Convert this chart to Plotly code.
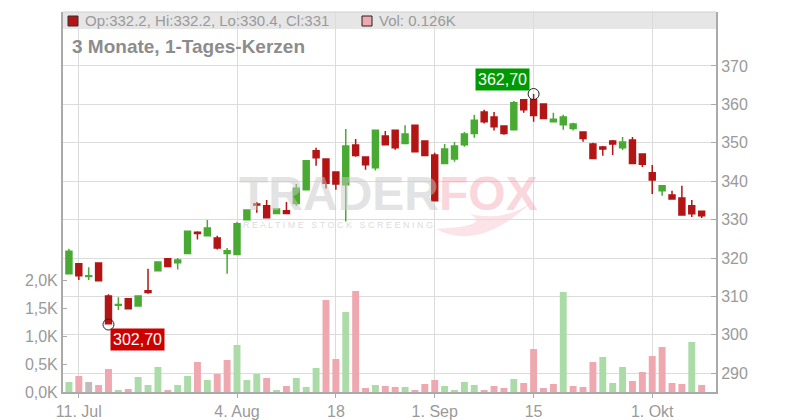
import plotly.graph_objects as go

# ---------------- data ----------------
dates = [
    "2025-07-10", "2025-07-11", "2025-07-14", "2025-07-15", "2025-07-16", "2025-07-17", "2025-07-18",
    "2025-07-21", "2025-07-22", "2025-07-23", "2025-07-24", "2025-07-25",
    "2025-07-28", "2025-07-29", "2025-07-30", "2025-07-31", "2025-08-01",
    "2025-08-04", "2025-08-05", "2025-08-06", "2025-08-07", "2025-08-08",
    "2025-08-11", "2025-08-12", "2025-08-13", "2025-08-14", "2025-08-15",
    "2025-08-18", "2025-08-19", "2025-08-20", "2025-08-21", "2025-08-22",
    "2025-08-25", "2025-08-26", "2025-08-27", "2025-08-28", "2025-08-29",
    "2025-09-01", "2025-09-02", "2025-09-03", "2025-09-04", "2025-09-05",
    "2025-09-08", "2025-09-09", "2025-09-10", "2025-09-11", "2025-09-12",
    "2025-09-15", "2025-09-16", "2025-09-17", "2025-09-18", "2025-09-19",
    "2025-09-22", "2025-09-23", "2025-09-24", "2025-09-25", "2025-09-26",
    "2025-09-29", "2025-09-30", "2025-10-01", "2025-10-02", "2025-10-03",
    "2025-10-06", "2025-10-07", "2025-10-08",
]

opens = [315.9, 318.5, 315.2, 318.7, 310.1, 307.7, 309.4, 307.5, 311.5, 316.7, 319.8,
         318.8, 321.2, 326.7, 325.8, 325.2, 321.2, 320.9, 330.0, 334.1, 333.6, 331.6,
         332.3, 334.2, 337.8, 347.9, 345.8, 342.4, 339.1, 349.4, 346.3, 343.5, 351.8,
         353.3, 349.8, 354.6, 350.5, 346.8, 344.6, 345.8, 349.5, 352.4, 358.0, 356.7,
         354.4, 353.4, 361.2, 361.2, 360.1, 355.5, 354.7, 353.7, 352.8, 349.7, 348.9,
         350.5, 348.7, 350.7, 347.1, 342.2, 337.5, 336.4, 335.6, 333.6, 332.2]
highs = [322.4, 318.5, 317.6, 318.8, 310.6, 309.8, 309.4, 310.1, 317.2, 319.0, 319.8,
         320.0, 327.1, 327.0, 329.9, 325.8, 322.6, 329.4, 332.5, 334.6, 335.1, 332.8,
         334.6, 339.3, 345.3, 348.7, 345.8, 342.4, 353.6, 351.0, 346.3, 353.3, 353.1,
         353.3, 354.6, 354.6, 350.5, 347.4, 349.7, 350.2, 352.8, 357.3, 358.6, 358.0,
         354.4, 360.9, 361.2, 362.7, 360.1, 357.8, 357.3, 355.2, 352.8, 350.0, 349.2,
         350.7, 351.5, 351.5, 347.1, 344.2, 338.8, 337.5, 338.8, 335.1, 332.2]
lows = [315.9, 314.3, 314.3, 314.0, 302.7, 306.5, 306.8, 307.5, 310.7, 316.7, 317.8,
        317.0, 321.2, 324.8, 325.8, 322.2, 315.9, 320.9, 330.0, 331.8, 330.5, 331.6,
        331.6, 333.6, 337.8, 344.0, 338.1, 337.8, 329.5, 346.4, 343.0, 342.8, 349.5,
        348.2, 349.8, 347.7, 346.7, 334.9, 344.6, 345.1, 349.0, 351.3, 355.0, 353.2,
        352.1, 353.4, 357.8, 355.5, 356.3, 355.5, 353.4, 353.2, 350.3, 345.9, 346.6,
        346.8, 348.1, 344.6, 343.7, 336.7, 336.2, 335.4, 331.2, 330.7, 330.4]
closes = [321.8, 315.4, 315.4, 314.1, 302.9, 307.9, 306.8, 310.1, 311.0, 319.0, 317.8,
          319.5, 327.0, 326.4, 327.8, 322.6, 321.9, 328.9, 332.5, 333.8, 330.5, 332.8,
          331.6, 338.2, 345.3, 346.1, 339.5, 339.3, 349.2, 346.7, 344.3, 353.3, 349.5,
          348.7, 352.3, 347.7, 346.7, 334.9, 348.4, 349.2, 352.3, 355.9, 355.5, 354.2,
          352.4, 360.4, 358.6, 357.1, 356.3, 356.1, 356.7, 354.9, 351.1, 345.9, 348.4,
          349.7, 350.2, 344.6, 344.4, 340.3, 338.8, 335.4, 331.2, 331.5, 331.0]
volumes = [179, 286, 179, 125, 411, 36, 54, 268, 125, 446, 18,
           125, 286, 536, 214, 321, 571, 839, 214, 321, 250, 36,
           107, 250, 89, 429, 1643, 589, 1429, 1804, 71, 125, 107,
           89, 89, 18, 143, 214, 107, 18, 179, 125, 36, 107,
           71, 232, 161, 768, 71, 143, 1786, 107, 89, 536, 625,
           161, 446, 196, 357, 643, 804, 161, 143, 893, 126]

x_tick_dates = ["2025-07-11", "2025-08-04", "2025-08-18", "2025-09-01", "2025-09-15", "2025-10-01"]
x_tick_labels = ["11. Jul", "4. Aug", "18", "1. Sep", "15", "1. Okt"]
price_ticks = [290, 300, 310, 320, 330, 340, 350, 360, 370]
vol_ticks = [0, 500, 1000, 1500, 2000]
vol_tick_labels = ["0,0K", "0,5K", "1,0K", "1,5K", "2,0K"]

# ---------------- styles ----------------
UP = "#48aa32"
DOWN = "#b31515"
VOL_UP = "#abdca8"
VOL_DOWN = "#efa7b0"
VOL_FLAT = "#bdbdbd"
GRID = "#dcdcdc"
AXIS = "#aaaaaa"
TXT = "#9a9a9a"
FONT = "Liberation Sans, Arial, sans-serif"

vol_colors = []
for i, c in enumerate(closes):
    if i == 0 or c > closes[i - 1]:
        vol_colors.append(VOL_UP)
    elif c < closes[i - 1]:
        vol_colors.append(VOL_DOWN)
    else:
        vol_colors.append(VOL_FLAT)

imin = min(range(len(lows)), key=lambda k: lows[k])
imax = max(range(len(highs)), key=lambda k: highs[k])

fig = go.Figure()

fig.add_trace(go.Bar(
    x=dates, y=volumes, marker=dict(color=vol_colors, line=dict(width=0)),
    yaxis="y", hoverinfo="skip", showlegend=False,
))

fig.add_trace(go.Candlestick(
    x=dates, open=opens, high=highs, low=lows, close=closes, yaxis="y2",
    increasing=dict(line=dict(color=UP, width=1.5), fillcolor=UP),
    decreasing=dict(line=dict(color=DOWN, width=1.5), fillcolor=DOWN),
    whiskerwidth=0, showlegend=False, hoverinfo="skip",
))

fig.add_trace(go.Scatter(
    x=[dates[imin], dates[imax]], y=[lows[imin], highs[imax]], yaxis="y2",
    mode="markers", marker=dict(symbol="circle-open", size=11, color="#222222", line=dict(width=1)),
    hoverinfo="skip", showlegend=False,
))

# The page places the figure 8px from the top-left corner (body margin),
# so the figure is 792x412 and screen positions are used below.
OFF = 8
FW, FH = 800 - OFF, 420 - OFF
# plot area in screen px: x 63..716, y 12..392
L, R, T, B = 63, 716, 12, 392
W, H = R - L, B - T


def px(xp):
    return (xp - L) / W


def py(yp):
    return (B - yp) / H


def pt(xp, yp):
    return f"{px(xp):.4f},{py(yp):.4f}"


tail_path = ("M " + pt(436, 229) + " Q " + pt(478, 252) + " " + pt(532, 202)
             + " Q " + pt(505, 222) + " " + pt(470, 214)
             + " Q " + pt(492, 226) + " " + pt(436, 229) + " Z")

shapes = [
    dict(type="rect", xref="paper", yref="paper", x0=0, x1=1, y0=py(29), y1=1,
         fillcolor="#e6e6e6", line=dict(width=0), layer="below"),
    dict(type="line", xref="paper", yref="paper", x0=0, x1=1, y0=1, y1=1,
         line=dict(color="#cfcfcf", width=1)),
    dict(type="rect", xref="paper", yref="paper", x0=px(68), x1=px(78), y0=py(26), y1=py(16),
         fillcolor=DOWN, line=dict(color="#333333", width=1)),
    dict(type="rect", xref="paper", yref="paper", x0=px(362), x1=px(372), y0=py(26), y1=py(16),
         fillcolor=VOL_DOWN, line=dict(color="#222222", width=1)),
    # watermark fox tail
    dict(type="path", xref="paper", yref="paper", path=tail_path,
         fillcolor="rgba(245,175,185,0.35)", line=dict(width=0), layer="below"),
]


def fmt(v):
    return f"{v:g}"


def de(v):
    return f"{v:.2f}".replace(".", ",")


annotations = [
    dict(xref="paper", yref="paper", x=px(83), y=py(21), xanchor="left", yanchor="middle",
         text=f"Op:{fmt(opens[-1])}, Hi:{fmt(highs[-1])}, Lo:{fmt(lows[-1])}, Cl:{fmt(closes[-1])}",
         showarrow=False, font=dict(size=15, color=TXT, family=FONT)),
    dict(xref="paper", yref="paper", x=px(377), y=py(21), xanchor="left", yanchor="middle",
         text=f"Vol: {volumes[-1] / 1000:.3f}K", showarrow=False,
         font=dict(size=15, color=TXT, family=FONT)),
    dict(xref="paper", yref="paper", x=px(70), y=py(47), xanchor="left", yanchor="middle",
         text="<b>3 Monate, 1-Tages-Kerzen</b>", showarrow=False,
         font=dict(size=19, color="#8c8c8c", family=FONT)),
    # watermark
    dict(xref="paper", yref="paper", x=px(388), y=py(193), xanchor="center", yanchor="middle",
         text="<b><span style='color:rgba(200,200,200,0.5)'>TRADER</span>"
              "<span style='color:rgba(242,150,162,0.4)'>FOX</span></b>",
         showarrow=False, font=dict(size=48, family=FONT)),
    dict(xref="paper", yref="paper", x=px(338), y=py(225), xanchor="center", yanchor="middle",
         text="R E A L T I M E   S T O C K   S C R E E N I N G", showarrow=False,
         font=dict(size=9, color="rgba(195,195,195,0.6)", family=FONT)),
    # low / high labels
    dict(x=dates[imin], y=lows[imin], xref="x", yref="y2", xanchor="left", yanchor="top",
         xshift=2, yshift=-3, text=de(lows[imin]), showarrow=False, bgcolor="#cc0000",
         borderpad=2, font=dict(size=16, color="white", family=FONT)),
    dict(x=dates[imax], y=highs[imax], xref="x", yref="y2", xanchor="right", yanchor="bottom",
         xshift=-4, yshift=3, text=de(highs[imax]), showarrow=False, bgcolor="#009900",
         borderpad=2, font=dict(size=16, color="white", family=FONT)),
]

n = len(dates)
fig.update_layout(
    width=FW, height=FH,
    margin=dict(l=L - OFF, r=FW - (R - OFF), t=T - OFF, b=FH - (B - OFF), pad=0, autoexpand=False),
    paper_bgcolor="white", plot_bgcolor="white",
    showlegend=False, bargap=0.3, boxgap=0.4, boxgroupgap=0,
    font=dict(family=FONT, color=TXT, size=16),
    xaxis=dict(
        type="category", categoryorder="array", categoryarray=dates,
        range=[-0.6, n + 0.45], rangeslider=dict(visible=False), automargin=False,
        tickmode="array", tickvals=x_tick_dates, ticktext=x_tick_labels,
        showgrid=True, gridcolor=GRID, gridwidth=1,
        showline=True, linecolor=AXIS, linewidth=2,
        ticks="outside", ticklen=4, tickcolor=AXIS,
        tickfont=dict(size=16, color=TXT, family=FONT), zeroline=False,
    ),
    yaxis=dict(
        range=[0, 2000 * H / 112], side="left", automargin=False,
        tickmode="array", tickvals=vol_ticks, ticktext=vol_tick_labels,
        showgrid=False, showline=True, linecolor=AXIS, linewidth=2,
        ticks="inside", ticklen=4, tickcolor=AXIS,
        tickfont=dict(size=16, color=TXT, family=FONT), zeroline=False,
    ),
    yaxis2=dict(
        overlaying="y", side="right", automargin=False,
        range=[285.13, 384.05],
        tickmode="array", tickvals=price_ticks,
        showgrid=True, gridcolor=GRID, gridwidth=1,
        showline=True, linecolor=AXIS, linewidth=2,
        ticks="inside", ticklen=5, tickcolor=AXIS,
        tickfont=dict(size=16, color=TXT, family=FONT), zeroline=False,
    ),
    shapes=shapes, annotations=annotations,
)

fig.write_html("out.html")
